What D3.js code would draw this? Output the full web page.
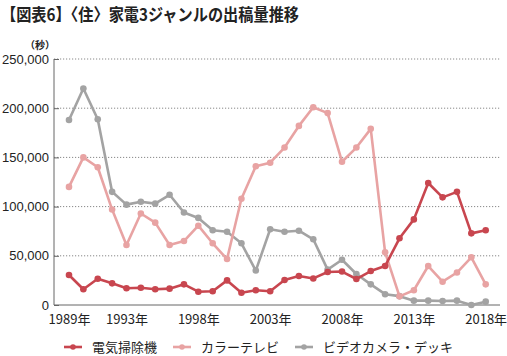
<!DOCTYPE html>
<html><head><meta charset="utf-8">
<script src="https://cdn.jsdelivr.net/npm/d3@7"></script>
<style>body{margin:0;background:#fff}svg{display:block}text{font-family:"Noto Sans CJK JP","Noto Sans",sans-serif}</style>
</head><body><svg id="c" width="507" height="356"></svg>
<script>
const years = d3.range(1989, 2019);
const vacuum = [30500,16000,26700,22000,17000,17500,16000,16600,21000,13500,14000,25000,12500,15000,14000,25400,29500,27000,33500,34000,26400,34500,39600,67800,87000,124000,109400,115000,72800,76000];
const colorTV = [120000,150000,140000,97000,61000,93000,83700,61000,65000,80600,62700,46700,108000,141000,144600,160000,182000,201000,195000,145600,160000,179000,53500,8800,15000,39600,23700,33000,48500,21000];
const video = [188000,220000,188700,115000,102000,105000,103000,112000,94000,88500,76000,74500,62700,35000,77000,74500,75500,66800,36000,46000,31500,21000,11000,9000,4400,4400,4000,4400,0,3400];
const seriesNames = ["電気掃除機","カラーテレビ","ビデオカメラ・デッキ"];
const colors = ["#c8464f","#e8a3a3","#a3a3a3"];
const yTicks = [0,50000,100000,150000,200000,250000];
const xTickYears = [1989,1993,1998,2003,2008,2013,2018];

const svg = d3.select("#c");
const x = d3.scaleLinear().domain([1989,2018]).range([69,485.7]);
const y = d3.scaleLinear().domain([0,250000]).range([305,59]);

svg.append("text").attr("x",1).attr("y",21).attr("font-size",17).attr("font-weight","bold")
  .attr("fill","#222").attr("textLength",298).attr("lengthAdjust","spacingAndGlyphs")
  .text("【図表6】〈住〉家電3ジャンルの出稿量推移");
svg.append("text").attr("x",40).attr("y",49).attr("font-size",10).attr("font-weight","bold")
  .attr("text-anchor","middle").attr("fill","#222").text("（秒）");

// grid
svg.append("g").selectAll("line").data(yTicks.filter(d=>d>0)).join("line")
  .attr("x1",54).attr("x2",500).attr("y1",d=>y(d)).attr("y2",d=>y(d))
  .attr("stroke","#888").attr("stroke-width",1).attr("stroke-dasharray","1.2,1.8");

// y axis
const ya = svg.append("g").attr("transform","translate(54,0)")
  .call(d3.axisLeft(y).tickValues(yTicks).tickSize(-5).tickPadding(5).tickFormat(d3.format(",")));
ya.select(".domain").attr("stroke","#666").attr("d","M0,"+y(250000)+"V"+y(0));
ya.selectAll(".tick line").attr("stroke","#666");
ya.selectAll("text").attr("fill","#222").style("font-family","'Liberation Sans',Arial,sans-serif").style("font-size","13px");

// x axis
const xa = svg.append("g").attr("transform","translate(0,305)")
  .call(d3.axisBottom(x).tickValues(xTickYears).tickSize(0).tickPadding(10).tickFormat(d=>d+"年"));
xa.select(".domain").attr("stroke","#666").attr("d","M54,0H500");
xa.selectAll("text").attr("font-size",13).attr("fill","#222");

const all = [vacuum,colorTV,video];
const line = d3.line().x((d,i)=>x(years[i])).y(d=>y(d));
[2,1,0].forEach(k=>{
  const g = svg.append("g");
  g.append("path").attr("d",line(all[k])).attr("fill","none").attr("stroke",colors[k]).attr("stroke-width",2.6).attr("stroke-linejoin","round");
  g.selectAll("circle").data(all[k]).join("circle").attr("cx",(d,i)=>x(years[i])).attr("cy",d=>y(d)).attr("r",3.3).attr("fill",colors[k]);
});

// legend
const lx = [64,173,295];
seriesNames.forEach((n,k)=>{
  const g = svg.append("g").attr("transform",`translate(${lx[k]},347)`);
  g.append("line").attr("x1",0).attr("x2",18).attr("stroke",colors[k]).attr("stroke-width",2.6);
  g.append("circle").attr("cx",9).attr("r",2.8).attr("fill",colors[k]);
  g.append("text").attr("x",28).attr("y",5).attr("font-size",13).attr("fill","#222").text(n);
});
</script></body></html>
